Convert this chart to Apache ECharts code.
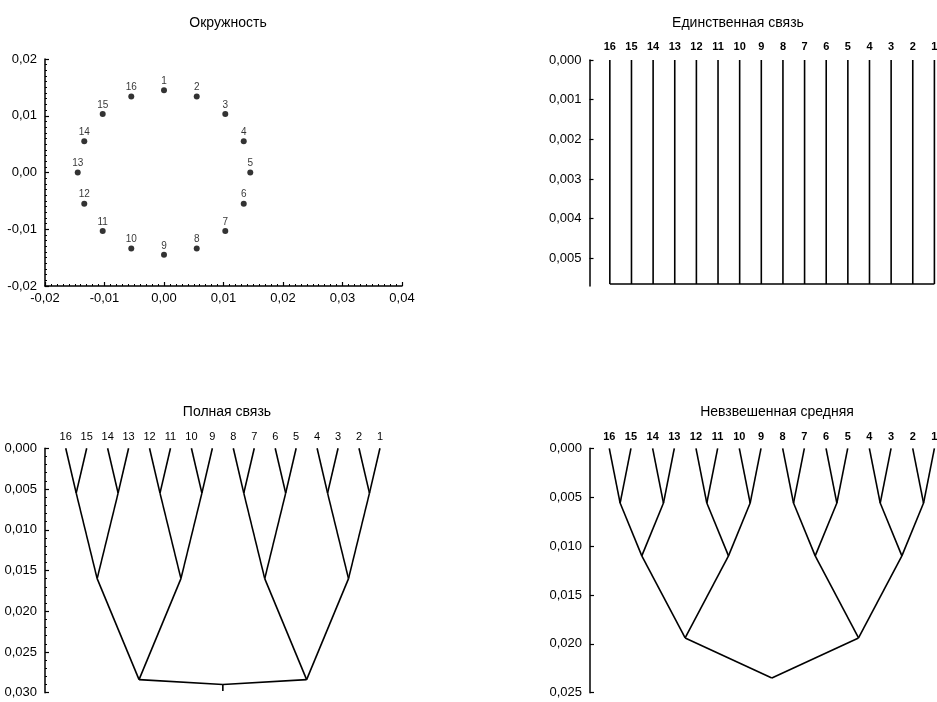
<!DOCTYPE html>
<html>
<head>
<meta charset="utf-8">
<script src="https://cdn.jsdelivr.net/npm/echarts@6/dist/echarts.min.js"></script>
<style>html,body{margin:0;padding:0;background:#fff}#c{width:937px;height:702px}</style>
</head>
<body>
<div id="c"></div>
<script>
// ---------- data ----------
const titles = ['Окружность', 'Единственная связь', 'Полная связь', 'Невзвешенная средняя'];
const pointLabels = ['1','2','3','4','5','6','7','8','9','10','11','12','13','14','15','16'];
const pointX = [0, 0.0055, 0.0103, 0.0134, 0.0145, 0.0134, 0.0103, 0.0055, 0, -0.0055, -0.0103, -0.0134, -0.0145, -0.0134, -0.0103, -0.0055];
const pointY = [0.0145, 0.0134, 0.0103, 0.0055, 0, -0.0055, -0.0103, -0.0134, -0.0145, -0.0134, -0.0103, -0.0055, 0, 0.0055, 0.0103, 0.0134];
const leafOrder = ['16','15','14','13','12','11','10','9','8','7','6','5','4','3','2','1'];
const scatterXTicks = [-0.02, -0.01, 0.00, 0.01, 0.02, 0.03, 0.04];
const scatterYTicks = [-0.02, -0.01, 0.00, 0.01, 0.02];
const singleTicks = [0, 0.001, 0.002, 0.003, 0.004, 0.005];
const singleMergeHeight = 0.00565;
// merge heights per level of the (balanced) tree: pairs, quartets, octets, root
const completeHeights = [0.0055, 0.016, 0.0284, 0.029];
const completeRootStem = 0.0298;
const upgmaHeights = [0.0056, 0.011, 0.0194, 0.0235];

// ---------- helpers ----------
const FONT = "'Liberation Sans', Arial, Helvetica, sans-serif";
const fmt = d => v => Number(v).toFixed(d).replace('.', ',');

function treeSegments(heights) {
  let nodes = leafOrder.map((_, i) => [i, 0]);
  const segs = [];
  heights.forEach(h => {
    const next = [];
    for (let i = 0; i < nodes.length; i += 2) {
      const a = nodes[i], b = nodes[i + 1];
      const p = [(a[0] + b[0]) / 2, h];
      segs.push([a[0], a[1], p[0], p[1]]);
      segs.push([b[0], b[1], p[0], p[1]]);
      next.push(p);
    }
    nodes = next;
  });
  return { segs, root: nodes[0] };
}

function singleSegments() {
  const segs = leafOrder.map((_, i) => [i, 0, i, singleMergeHeight]);
  segs.push([0, singleMergeHeight, leafOrder.length - 1, singleMergeHeight]);
  return segs;
}

const complete = treeSegments(completeHeights);
complete.segs.push([complete.root[0], complete.root[1], complete.root[0], completeRootStem]);
const upgma = treeSegments(upgmaHeights);

const lineRender = (params, api) => {
  const p1 = api.coord([api.value(0), api.value(1)]);
  const p2 = api.coord([api.value(2), api.value(3)]);
  return { type: 'line', shape: { x1: p1[0], y1: p1[1], x2: p2[0], y2: p2[1] },
           style: { stroke: '#000', lineWidth: 1.6 } };
};
const labelRender = (dist, weight) => (params, api) => {
  const p = api.coord([api.value(0), api.value(1)]);
  return { type: 'text', x: p[0], y: p[1] - dist,
           style: { text: leafOrder[params.dataIndex], align: 'center', verticalAlign: 'middle',
                    fontSize: 11, fontFamily: FONT, fontWeight: weight, fill: '#000' } };
};
const leafData = leafOrder.map((_, i) => [i, 0]);

function valueYAxis(idx, max, interval, digits, minorSplit, custom) {
  const ax = {
    type: 'value', gridIndex: idx, inverse: true, min: 0, max: max, interval: interval,
    axisLine: { show: true, onZero: false, lineStyle: { color: '#000', width: 1.5 } },
    axisTick: { show: true, inside: true, length: 4, lineStyle: { color: '#000', width: 1.2 } },
    minorTick: { show: !!minorSplit, splitNumber: minorSplit || 5, length: 2, lineStyle: { color: '#000', width: 1 } },
    splitLine: { show: false },
    axisLabel: { formatter: fmt(digits), color: '#000', fontSize: 13, fontFamily: FONT, margin: 8 }
  };
  if (custom) {
    ax.axisTick.customValues = custom;
    ax.axisLabel.customValues = custom;
  }
  return ax;
}
function hiddenXAxis(idx, min, max) {
  return { type: 'value', gridIndex: idx, min: min, max: max, show: false, splitLine: { show: false } };
}

const titleCommon = { textAlign: 'center', textStyle: { fontSize: 14, fontWeight: 'normal', color: '#000', fontFamily: FONT } };

const option = {
  animation: false,
  backgroundColor: '#fff',
  title: [
    Object.assign({ text: titles[0], left: 223, top: 11 }, titleCommon),
    Object.assign({ text: titles[1], left: 733, top: 11 }, titleCommon),
    Object.assign({ text: titles[2], left: 222, top: 400 }, titleCommon),
    Object.assign({ text: titles[3], left: 772, top: 400 }, titleCommon)
  ],
  grid: [
    { left: 45, top: 59, width: 357, height: 227 },
    { left: 589.5, top: 60, width: 348, height: 226 },
    { left: 45, top: 448.3, width: 345, height: 244.4 },
    { left: 590, top: 448.3, width: 347, height: 244.4 }
  ],
  xAxis: [
    {
      type: 'value', gridIndex: 0, min: scatterXTicks[0], max: scatterXTicks[scatterXTicks.length - 1], interval: 0.01,
      axisLine: { show: true, onZero: false, lineStyle: { color: '#000', width: 1.5 } },
      axisTick: { show: true, inside: true, length: 4, lineStyle: { color: '#000', width: 1.2 } },
      minorTick: { show: true, splitNumber: 10, length: 2, lineStyle: { color: '#000', width: 1 } },
      splitLine: { show: false },
      axisLabel: { formatter: fmt(2), color: '#000', fontSize: 13, fontFamily: FONT, margin: 6 }
    },
    hiddenXAxis(1, -0.94, 15.12),
    hiddenXAxis(2, -0.99, 15.48),
    hiddenXAxis(3, -0.89, 15.12)
  ],
  yAxis: [
    {
      type: 'value', gridIndex: 0, min: scatterYTicks[0], max: scatterYTicks[scatterYTicks.length - 1], interval: 0.01,
      axisLine: { show: true, onZero: false, lineStyle: { color: '#000', width: 1.5 } },
      axisTick: { show: true, inside: true, length: 4, lineStyle: { color: '#000', width: 1.2 } },
      minorTick: { show: true, splitNumber: 10, length: 2, lineStyle: { color: '#000', width: 1 } },
      splitLine: { show: false },
      axisLabel: { formatter: fmt(2), color: '#000', fontSize: 13, fontFamily: FONT, margin: 8 }
    },
    valueYAxis(1, 0.0057, 0.001, 3, 0, singleTicks),
    valueYAxis(2, 0.030, 0.005, 3, 5),
    valueYAxis(3, 0.025, 0.005, 3, 0)
  ],
  series: [
    {
      type: 'scatter', xAxisIndex: 0, yAxisIndex: 0, symbolSize: 6,
      itemStyle: { color: '#000' },
      label: { show: true, position: 'top', distance: 1, color: '#000', fontSize: 10, fontFamily: FONT,
               formatter: p => pointLabels[p.dataIndex] },
      data: pointX.map((x, i) => [x, pointY[i]])
    },
    { type: 'custom', xAxisIndex: 1, yAxisIndex: 1, renderItem: lineRender, data: singleSegments(), encode: { x: [0, 2], y: [1, 3] } },
    { type: 'custom', xAxisIndex: 1, yAxisIndex: 1, renderItem: labelRender(13, 'bold'), data: leafData },
    { type: 'custom', xAxisIndex: 2, yAxisIndex: 2, renderItem: lineRender, data: complete.segs, encode: { x: [0, 2], y: [1, 3] } },
    { type: 'custom', xAxisIndex: 2, yAxisIndex: 2, renderItem: labelRender(11, 'normal'), data: leafData },
    { type: 'custom', xAxisIndex: 3, yAxisIndex: 3, renderItem: lineRender, data: upgma.segs, encode: { x: [0, 2], y: [1, 3] } },
    { type: 'custom', xAxisIndex: 3, yAxisIndex: 3, renderItem: labelRender(11, 'bold'), data: leafData }
  ]
};

const chart = echarts.init(document.getElementById('c'), null, { renderer: 'canvas' });
chart.setOption(option);
</script>
</body>
</html>
